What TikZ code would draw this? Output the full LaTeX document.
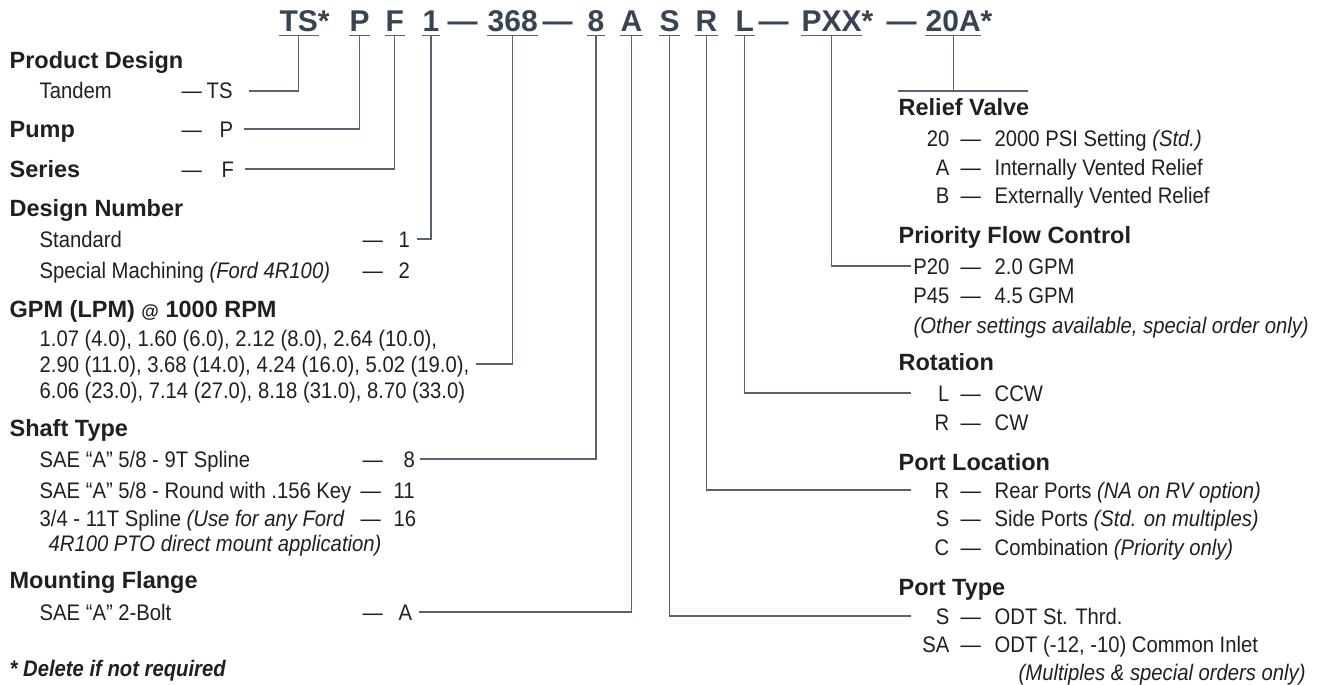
\documentclass[tikz,border=0pt]{standalone}
\usepackage{fontspec}
\setmainfont{Liberation Sans}
\newfontfamily\bodyfont[FakeStretch=0.9]{Liberation Sans}
\usepackage{tikz}
\definecolor{slate}{RGB}{55,68,84}
\definecolor{wirecol}{RGB}{88,100,115}
\definecolor{ink}{RGB}{35,31,32}

\begin{document}
\begin{tikzpicture}[x=1pt, y=-1pt, line width=1.3pt,
  code/.style={anchor=base west, inner xsep=0pt, inner ysep=3pt, text depth=0pt, text=slate, font=\fontsize{30}{30}\selectfont\bfseries},
  hd/.style={anchor=west, inner sep=0pt, text height=16pt, text depth=0pt, text=ink, font=\fontsize{23.5}{24}\selectfont\bfseries},
  txt/.style={anchor=west, inner sep=0pt, text height=16pt, text depth=0pt, text=ink, font=\bodyfont\fontsize{22.5}{24}\selectfont},
  key/.style={txt, anchor=east},
  link/.style={draw=wirecol},
  uline/.style={draw=wirecol, line width=1.6pt}]
\useasboundingbox (0,0) rectangle (1317,685);

\draw (279,32) node[code](c1){TS\rlap{*}}
    (349,32) node[code](c2){P}
    (385,32) node[code](c3){F}
    (422,32) node[code](c4){1}
    (447,32) node[code](d1){—}
    (487,32) node[code](c5){368}
    (542,32) node[code](d2){—}
    (587,32) node[code](c6){8}
    (620,32) node[code](c7){A}
    (659,32) node[code](c8){S}
    (695,32) node[code](c9){R}
    (735,32) node[code](c10){L}
    (758,32) node[code](d3){—}
    (801,32) node[code](c11){PXX\rlap{*}}
    (886,32) node[code](d4){—}
    (925,32) node[code](c12){20A\rlap{*}};
\foreach \i in {1,...,12} \draw[uline] (c\i.south west) -- (c\i.south east);

\draw (9,60) node[hd](h1){Product Design}
    (39,91) node[txt](t1){Tandem}
    (181,91) node[txt](m1){—}
    (206,91) node[txt](k1){TS}
    (9,129) node[hd](h2){Pump}
    (181,129) node[txt](m2){—}
    (219,129) node[txt](k2){P}
    (9,169) node[hd](h3){Series}
    (181,169) node[txt](m3){—}
    (221,169) node[txt](k3){F}
    (9,208) node[hd](h4){Design Number}
    (39,239) node[txt](t4){Standard}
    (362,239) node[txt](m4){—}
    (398,239) node[txt](k4){1}
    (39,270) node[txt](t5){Special Machining \textit{(Ford 4R100)}}
    (362,270) node[txt](m5){—}
    (398,270) node[txt](k5){2}
    (9,309) node[hd](h5){GPM (LPM) {\fontsize{18}{18}\selectfont @} 1000 RPM}
    (39,338) node[txt](g1){1.07 (4.0), 1.60 (6.0), 2.12 (8.0), 2.64 (10.0),}
    (39,364) node[txt](g2){2.90 (11.0), 3.68 (14.0), 4.24 (16.0), 5.02 (19.0),}
    (39,390) node[txt](g3){6.06 (23.0), 7.14 (27.0), 8.18 (31.0), 8.70 (33.0)}
    (9,428) node[hd](h6){Shaft Type}
    (39,459) node[txt](t6){SAE “A” 5/8 - 9T Spline}
    (362,459) node[txt](m6){—}
    (403,459) node[txt](k6){8}
    (39,490) node[txt](t7){SAE “A” 5/8 - Round with .156 Key}
    (360,490) node[txt](m7){—}
    (393,490) node[txt](k7){11}
    (39,518) node[txt](t8){3/4 - 11T Spline \textit{(Use for any Ford}}
    (360,518) node[txt](m8){—}
    (393,518) node[txt](k8){16}
    (48,543) node[txt](t9){\textit{4R100 PTO direct mount application)}}
    (9,580) node[hd](h7){Mounting Flange}
    (39,612) node[txt](t10){SAE “A” 2-Bolt}
    (362,612) node[txt](m10){—}
    (398,612) node[txt](k10){A}
    (9,668) node[txt](n1){\bfseries\itshape * Delete if not required};

\coordinate (rv1) at (898,91);
\coordinate (rv2) at (1028,91);
\draw (898,107) node[hd](h8){Relief Valve}
    (950,138) node[key](k11){20} (960,138) node[txt](m11){—} (994,138) node[txt](t11){2000 PSI Setting \textit{(Std.)}}
    (950,167) node[key](k12){A} (960,167) node[txt](m12){—} (994,167) node[txt](t12){Internally Vented Relief}
    (950,195) node[key](k13){B} (960,195) node[txt](m13){—} (994,195) node[txt](t13){Externally Vented Relief}
    (898,235) node[hd](h9){Priority Flow Control}
    (950,266) node[key](k14){P20} (960,266) node[txt](m14){—} (994,266) node[txt](t14){2.0 GPM}
    (950,295) node[key](k15){P45} (960,295) node[txt](m15){—} (994,295) node[txt](t15){4.5 GPM}
    (913,325) node[txt](n2){\textit{(Other settings available, special order only)}}
    (898,362) node[hd](h10){Rotation}
    (950,393) node[key](k16){L} (960,393) node[txt](m16){—} (994,393) node[txt](t16){CCW}
    (950,422) node[key](k17){R} (960,422) node[txt](m17){—} (994,422) node[txt](t17){CW}
    (898,462) node[hd](h11){Port Location}
    (950,490) node[key](k18){R} (960,490) node[txt](m18){—} (994,490) node[txt](t18){Rear Ports \textit{(NA on RV option)}}
    (950,518) node[key](k19){S} (960,518) node[txt](m19){—} (994,518) node[txt](t19){Side Ports \textit{(Std. on multiples)}}
    (950,547) node[key](k20){C} (960,547) node[txt](m20){—} (994,547) node[txt](t20){Combination \textit{(Priority only)}}
    (898,587) node[hd](h12){Port Type}
    (950,616) node[key](k21){S} (960,616) node[txt](m21){—} (994,616) node[txt](t21){ODT St. Thrd.}
    (950,644) node[key](k22){SA} (960,644) node[txt](m22){—} (994,644) node[txt](t22){ODT (-12, -10) Common Inlet}
    (1018,672) node[txt](n3){\textit{(Multiples \& special orders only)}};

\draw[link] (c1.south) |- ([xshift=16pt]k1.east);
\draw[link] (c2.south) |- ([xshift=10pt]k2.east);
\draw[link] (c3.south) |- ([xshift=10pt]k3.east);
\draw[link] (c4.south) |- ([xshift=6pt]k4.east);
\draw[link] (c5.south) |- ([xshift=6pt]g2.east);
\draw[link] (c6.south) |- ([xshift=4pt]k6.east);
\draw[link] (c7.south) |- ([xshift=6pt]k10.east);
\draw[link] (c8.south) |- ([xshift=-39pt]k21.east);
\draw[link] (c9.south) |- ([xshift=-39pt]k18.east);
\draw[link] (c10.south) |- ([xshift=-39pt]k16.east);
\draw[link] (c11.south) |- ([xshift=-39pt]k14.east);
\draw[link] (c12.south) -- (c12.south |- rv1);
\draw[link] (rv1) -- (rv2);
\end{tikzpicture}
\end{document}
